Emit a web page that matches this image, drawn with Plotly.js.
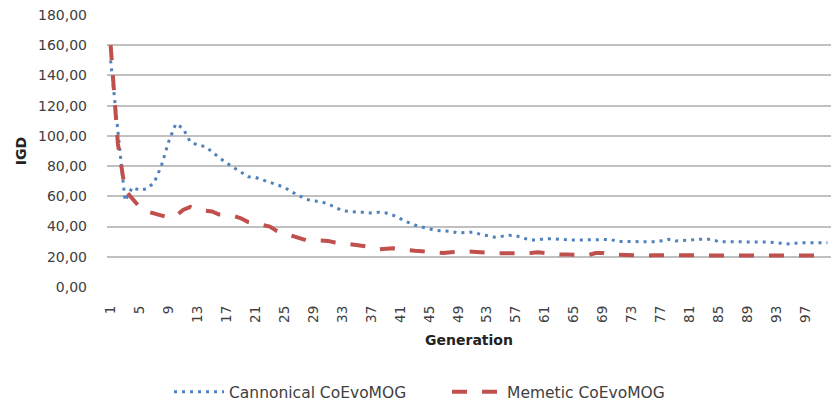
<!DOCTYPE html>
<html>
<head>
<meta charset="utf-8">
<script src="https://cdn.plot.ly/plotly-3.0.1.min.js"></script>
<style>
html,body{margin:0;padding:0;background:#fff;}
#chart{width:831px;height:403px;}
</style>
</head>
<body>
<div id="chart"></div>
<script>
// Generations 1..100
var generations = [];
for (var i = 1; i <= 100; i++) generations.push(i);

var cannonical = [
  150, 102, 57, 66, 64, 65, 69, 80, 96, 108,
  105, 96, 94, 93, 89.6, 85.5, 82, 79, 76, 73,
  72.5, 71, 69.5, 68, 66, 63, 60.5, 58, 57, 56.5,
  55, 53, 50.5, 50, 49.5, 49.5, 49, 49.5, 49, 47.5,
  45, 43, 41, 39.5, 38.5, 37.5, 37.3, 36.8, 35.8, 36.3,
  36.3, 35, 34, 33, 33.5, 34.2, 34, 32.3, 31.2, 31.1,
  32, 32, 31.5, 31.1, 31.1, 31.1, 31.1, 31.5, 31.6, 31.5,
  30.2, 30, 30, 30, 30, 30, 30.5, 31.6, 30.5, 30.5,
  31, 31.6, 31.6, 31.6, 30, 30, 30, 30, 30, 30,
  30, 29.7, 29.2, 28.8, 28.4, 29.3, 29.3, 29.3, 29.3, 29.3
];

var memetic = [
  160, 95, 64, 58, 53, 50, 48.5, 47, 46, 47,
  51, 53, 51, 50.5, 50, 48, 47.5, 47, 45.5, 43,
  42, 41, 40, 37, 35.5, 34.5, 33, 31, 31, 31,
  30.5, 29.5, 29, 28.5, 28, 27, 26.5, 25, 25.3, 25.6,
  25, 24.3, 24, 23.7, 23.4, 23, 22.5, 23, 23.4, 23.5,
  23.4, 23, 22.4, 22.3, 22.3, 22.3, 22.3, 22.3, 22.5, 23,
  22.5, 21.8, 21.5, 21.5, 21.4, 21.2, 21.2, 22.5, 22.5, 21.5,
  21.3, 21.3, 21.3, 21, 20.8, 21, 21.2, 21.2, 21, 21,
  20.9, 20.8, 20.8, 20.8, 20.8, 20.8, 20.8, 20.8, 20.8, 20.8,
  20.8, 20.8, 20.8, 20.8, 20.8, 20.8, 20.8, 20.8, 20.8, 20.8
];

var seriesNames = ["Cannonical CoEvoMOG", "Memetic CoEvoMOG"];

var xTickVals = [1,5,9,13,17,21,25,29,33,37,41,45,49,53,57,61,65,69,73,77,81,85,89,93,97];
var yTickVals = [0,20,40,60,80,100,120,140,160,180];
var yTickText = ["0,00","20,00","40,00","60,00","80,00","100,00","120,00","140,00","160,00","180,00"];

var FONT = "DejaVu Sans, sans-serif";

var traces = [
  {
    x: generations, y: cannonical, name: seriesNames[0],
    type: "scatter", mode: "lines",
    line: {color: "#4f81bd", width: 3, dash: "3px,5px"}
  },
  {
    x: generations, y: memetic, name: seriesNames[1],
    type: "scatter", mode: "lines",
    line: {color: "#c0504d", width: 4, dash: "15px,15px"}
  }
];

var layout = {
  width: 831, height: 403,
  margin: {l: 107, r: 0, t: 15, b: 116, autoexpand: false},
  paper_bgcolor: "#fff", plot_bgcolor: "#fff",
  font: {family: FONT, color: "#404040", size: 14},
  showlegend: true,
  legend: {
    orientation: "h", xref: "container", yref: "container",
    x: 0.2034, xanchor: "left", y: 0.027, yanchor: "middle",
    font: {family: FONT, size: 15.5, color: "#404040"},
    itemwidth: 50, entrywidth: 213, entrywidthmode: "pixels"
  },
  xaxis: {
    range: [0.5, 100.5], tickmode: "array", tickvals: xTickVals,
    tickangle: -90, ticks: "", showgrid: false, zeroline: false,
    showline: false, ticklabelstandoff: 15,
    tickfont: {family: FONT, size: 13.5, color: "#404040"},
    title: {text: "<b>Generation</b>", standoff: 13, font: {family: FONT, size: 14, color: "#222"}}
  },
  yaxis: {
    range: [0, 180], tickmode: "array", tickvals: yTickVals, ticktext: yTickText,
    ticks: "", showgrid: true, gridcolor: "#c0c0c0", gridwidth: 2,
    zeroline: false, showline: false, ticklabelstandoff: 19,
    tickfont: {family: FONT, size: 14, color: "#404040"},
    title: {text: "<b>IGD</b>", standoff: 8, font: {family: FONT, size: 14, color: "#222"}}
  }
};

Plotly.newPlot("chart", traces, layout, {displayModeBar: false, staticPlot: true});
</script>
</body>
</html>
